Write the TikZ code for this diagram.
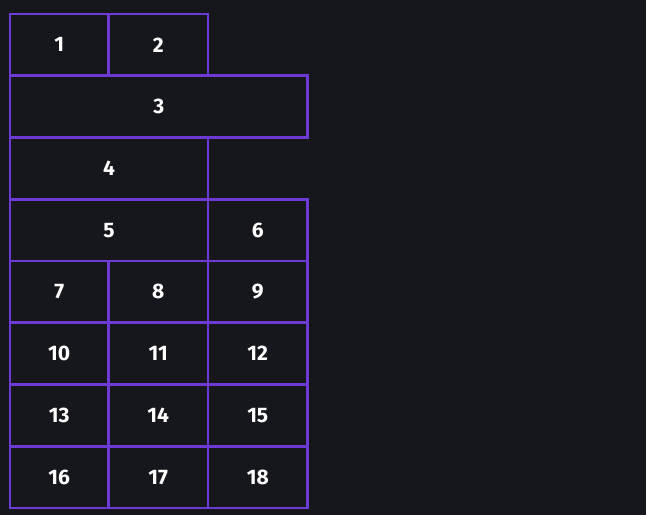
\documentclass[tikz,border=0pt]{standalone}
\usepackage{fontspec}
\setmainfont{Fira Sans}
\definecolor{bg}{HTML}{16171D}
\definecolor{purp}{HTML}{6D3AD4}
\tikzset{
  cellbox/.style={draw=purp, line width=2.6pt, text=white, inner sep=0pt,
    font=\bfseries\fontsize{21}{21}\selectfont},
}
\newcommand{\gcell}[6]{%
  \node[cellbox, minimum width={(#4-#2)*1pt}, minimum height={(#5-#3)*1pt}]
    (#1) at ({(#2+#4)/2},{(#3+#5)/2}) {#6};}
\begin{document}
\begin{tikzpicture}[x=1pt,y=-1pt]
\fill[bg] (0,0) rectangle (646,515);
\useasboundingbox (0,0) rectangle (646,515);
\gcell{c1}{10}{14}{108.5}{75.75}{1}
\gcell{c2}{108.5}{14}{208}{75.75}{2}
\gcell{c3}{10}{75.75}{307.5}{137.5}{3}
\gcell{c4}{10}{137.5}{208}{199.25}{4}
\gcell{c5}{10}{199.25}{208}{261}{5}
\gcell{c6}{208}{199.25}{307.5}{261}{6}
\gcell{c7}{10}{261}{108.5}{322.75}{7}
\gcell{c8}{108.5}{261}{208}{322.75}{8}
\gcell{c9}{208}{261}{307.5}{322.75}{9}
\gcell{c10}{10}{322.75}{108.5}{384.5}{10}
\gcell{c11}{108.5}{322.75}{208}{384.5}{11}
\gcell{c12}{208}{322.75}{307.5}{384.5}{12}
\gcell{c13}{10}{384.5}{108.5}{446.25}{13}
\gcell{c14}{108.5}{384.5}{208}{446.25}{14}
\gcell{c15}{208}{384.5}{307.5}{446.25}{15}
\gcell{c16}{10}{446.25}{108.5}{508}{16}
\gcell{c17}{108.5}{446.25}{208}{508}{17}
\gcell{c18}{208}{446.25}{307.5}{508}{18}
\end{tikzpicture}
\end{document}
